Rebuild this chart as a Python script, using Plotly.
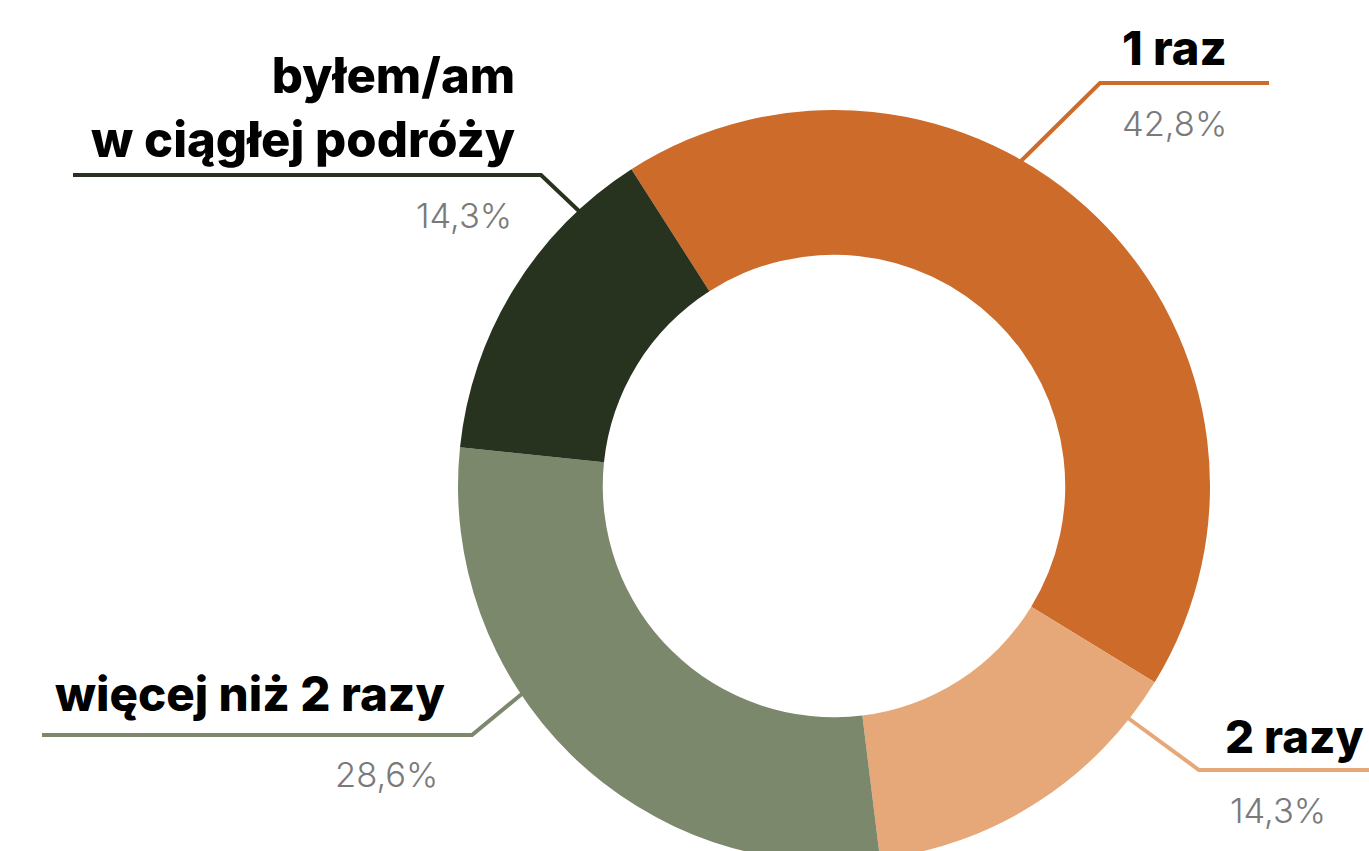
import plotly.graph_objects as go

# ---- data ----
labels = ["1 raz", "2 razy", "więcej niż 2 razy", "byłem/am<br>w ciągłej podróży"]
values = [42.8, 14.3, 28.6, 14.3]
pct_text = ["42,8%", "14,3%", "28,6%", "14,3%"]
colors = ["#CD6B2A", "#E6A878", "#7B886C", "#28331F"]

# ---- layout helpers (pixel -> paper) ----
W, H = 1369, 880
def px(x):
    return x / W
def py(y):
    return 1 - y / H

fig = go.Figure(
    go.Pie(
        values=values,
        labels=labels,
        hole=0.615,
        sort=False,
        direction="clockwise",
        rotation=-32.6,
        marker=dict(colors=colors, line=dict(width=0)),
        textinfo="none",
        hoverinfo="label+value",
        showlegend=False,
        domain=dict(x=[px(458), px(1210)], y=[py(862), py(110)]),
    )
)

# leader lines: (points, color index)
leaders = [
    ([(1018, 164), (1100, 83), (1269, 83)], 0),
    ([(1128, 718), (1199, 770), (1375, 770)], 1),
    ([(523, 693), (472, 735), (42, 735)], 2),
    ([(580, 212), (541, 175), (73, 175)], 3),
]
shapes = []
for pts, ci in leaders:
    path = "M " + " L ".join(f"{px(x)} {py(y)}" for x, y in pts)
    shapes.append(dict(type="path", xref="paper", yref="paper", path=path,
                       line=dict(color=colors[ci], width=4)))

# label placements: (x, y_middle, anchor, size) for name, then pct
name_pos = [(1120, 47, "left", 47), (1223, 736, "left", 45.5),
            (447, 693, "right", 47.5), (517, 107, "right", 49)]
pct_pos = [(1120, 124, "left"), (1228, 810, "left"),
           (440, 774, "right"), (514, 215, "right")]

annotations = []
bold = dict(family="Inter, Poppins, sans-serif", color="#000000", weight=800)
light = dict(family="Inter, Poppins, sans-serif", color="#7a7a7a", size=34.5, weight=300)
for i in range(len(labels)):
    x, y, anc, size = name_pos[i]
    annotations.append(dict(text=labels[i], x=px(x), y=py(y), xref="paper", yref="paper",
                            xanchor=anc, yanchor="middle", showarrow=False, align=anc,
                            font=dict(bold, size=size)))
    x, y, anc = pct_pos[i]
    annotations.append(dict(text=pct_text[i], x=px(x), y=py(y), xref="paper", yref="paper",
                            xanchor=anc, yanchor="middle", showarrow=False, align=anc,
                            font=light))

fig.update_layout(
    width=W, height=H,
    margin=dict(l=0, r=0, t=0, b=0),
    paper_bgcolor="white", plot_bgcolor="white",
    shapes=shapes, annotations=annotations,
)

fig.write_html("out.html", config=dict(displayModeBar=False),
               post_script="document.body.style.margin='0';document.body.style.overflow='hidden';")
